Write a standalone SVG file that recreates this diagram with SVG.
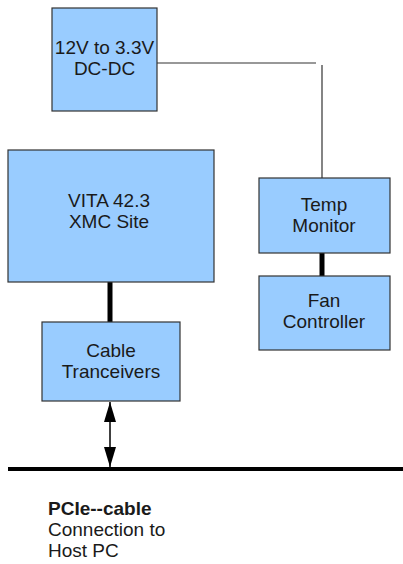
<svg xmlns="http://www.w3.org/2000/svg" width="403" height="564" viewBox="0 0 403 564">
<defs>
<style>
.box{fill:#99ccff;stroke:#333333;stroke-width:1.2}
.t{font-family:"Liberation Sans",Arial,sans-serif;font-size:19px;fill:#1a1a1a;text-anchor:middle}
.l{font-family:"Liberation Sans",Arial,sans-serif;font-size:19px;fill:#1a1a1a}
.thin{stroke:#333333;stroke-width:1.2;fill:none}
.thick{stroke:#000;stroke-width:5;fill:none}
</style>
<marker id="ah" viewBox="0 0 20 12" refX="20" refY="6" markerWidth="20" markerHeight="12" markerUnits="userSpaceOnUse" orient="auto-start-reverse">
<path d="M0,0 L20,6 L0,12 Z" fill="#000"/>
</marker>
</defs>
<rect width="403" height="564" fill="#fff"/>
<g id="connectors">
<polyline class="thin" points="157,63 316,63"/>
<line class="thin" x1="322" y1="65" x2="322" y2="178"/>
<line class="thick" x1="110" y1="282" x2="110" y2="322"/>
<line class="thick" x1="322" y1="253" x2="322" y2="276"/>
<line x1="110" y1="402" x2="110" y2="467" stroke="#000" stroke-width="1.5" marker-start="url(#ah)" marker-end="url(#ah)"/>
<line x1="8" y1="469" x2="403" y2="469" stroke="#000" stroke-width="4"/>
</g>
<g id="dcdc">
<rect class="box" x="52" y="8" width="105" height="103"/>
<text class="t" x="104.5" y="54">12V to 3.3V</text>
<text class="t" x="104.5" y="75">DC-DC</text>
</g>
<g id="vita">
<rect class="box" x="8" y="150" width="206" height="132"/>
<text class="t" x="109" y="207">VITA 42.3</text>
<text class="t" x="109" y="228">XMC Site</text>
</g>
<g id="cable">
<rect class="box" x="42" y="322" width="138" height="79"/>
<text class="t" x="111" y="357">Cable</text>
<text class="t" x="111" y="378">Tranceivers</text>
</g>
<g id="temp">
<rect class="box" x="259" y="178" width="131" height="75"/>
<text class="t" x="324" y="211">Temp</text>
<text class="t" x="324" y="232">Monitor</text>
</g>
<g id="fan">
<rect class="box" x="259" y="276" width="131" height="74"/>
<text class="t" x="324" y="307">Fan</text>
<text class="t" x="324" y="328">Controller</text>
</g>
<g id="label">
<text class="l" x="48" y="515" font-weight="bold">PCIe--cable</text>
<text class="l" x="48" y="536">Connection to</text>
<text class="l" x="48" y="557">Host PC</text>
</g>
</svg>
